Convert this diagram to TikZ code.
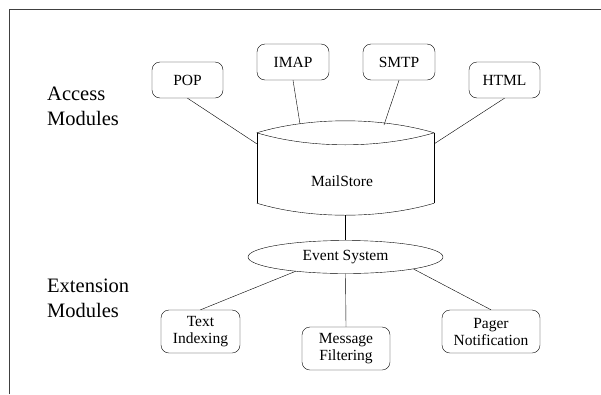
\documentclass[tikz,border=0pt]{standalone}
\usepackage{fontspec}
\setmainfont{Liberation Serif}
\usetikzlibrary{shapes.geometric}

\begin{document}
\begin{tikzpicture}
    [
    x=1pt, y=-1pt,
    module/.style={rectangle,rounded corners=8pt,draw,inner sep=0pt,align=center,
      font=\fontsize{15.5}{17}\selectfont},
    layer/.style={anchor=west,align=left,inner sep=0pt,font=\fontsize{20.5}{25}\selectfont},
    frame/.style={draw=black!75,line width=1.2pt}
    ]
    \useasboundingbox (0,0) rectangle (601,394);
    \draw [frame] (9.5,394) -- (9.5,9.5) -- (601,9.5);

    \node (acc) at (47,106) [layer] {Access\\Modules};
    \node (ext) at (47,298) [layer] {Extension\\Modules};

    \node (pop)  at (187.5,80) [module, minimum width=71pt, minimum height=36pt] {POP};
    \node (imap) at (293,62)   [module, minimum width=72pt, minimum height=36pt] {IMAP};
    \node (smtp) at (399,62)   [module, minimum width=72pt, minimum height=36pt] {SMTP};
    \node (html) at (504.5,80) [module, minimum width=71pt, minimum height=36pt] {HTML};

    \node (ms) at (345.5,168) [minimum width=177pt, minimum height=70pt, inner sep=0pt] {};
    \node (mstxt) at (342,181) [font=\fontsize{15.5}{17}\selectfont] {MailStore};
    \draw (ms.north west) .. controls +(53,-16) and +(-54,-16) .. (ms.north east);
    \draw (ms.north west) .. controls +(53,16) and +(-54,16) .. (ms.north east);
    \draw (ms.north west) to (ms.south west);
    \draw (ms.north east) to (ms.south east);
    \draw (ms.south west) .. controls +(53,16) and +(-54,16) .. (ms.south east);

    \coordinate (msw) at ([yshift=-11pt]ms.north west);
    \coordinate (mse) at ([yshift=-11pt]ms.north east);
    \coordinate (ms1) at (300,124);
    \coordinate (ms2) at (384,125);
    \coordinate (msb) at ([yshift=-12pt]ms.south);
    \draw (pop.south) to (msw);
    \draw (imap.south) to (ms1);
    \draw (smtp.south) to (ms2);
    \draw (html.south) to (mse);

    \node (ev) at (345.5,257) [ellipse, draw, minimum width=195pt, minimum height=33pt,
      inner sep=0pt, font=\fontsize{15.5}{17}\selectfont] {Event System};
    \draw (msb) to (ev.north);

    \node (ti) at (200.5,331.5) [module, minimum width=79pt, minimum height=43pt] {Text\\Indexing};
    \node (mf) at (346,348.5)   [module, minimum width=88pt, minimum height=43pt] {Message\\Filtering};
    \node (pn) at (491,331.5)   [module, minimum width=98pt, minimum height=43pt] {Pager\\Notification};
    \draw (ev.196) to (ti.north);
    \draw (ev.south) to (mf.north);
    \draw (ev.350) to (pn.north);
\end{tikzpicture}
\end{document}
